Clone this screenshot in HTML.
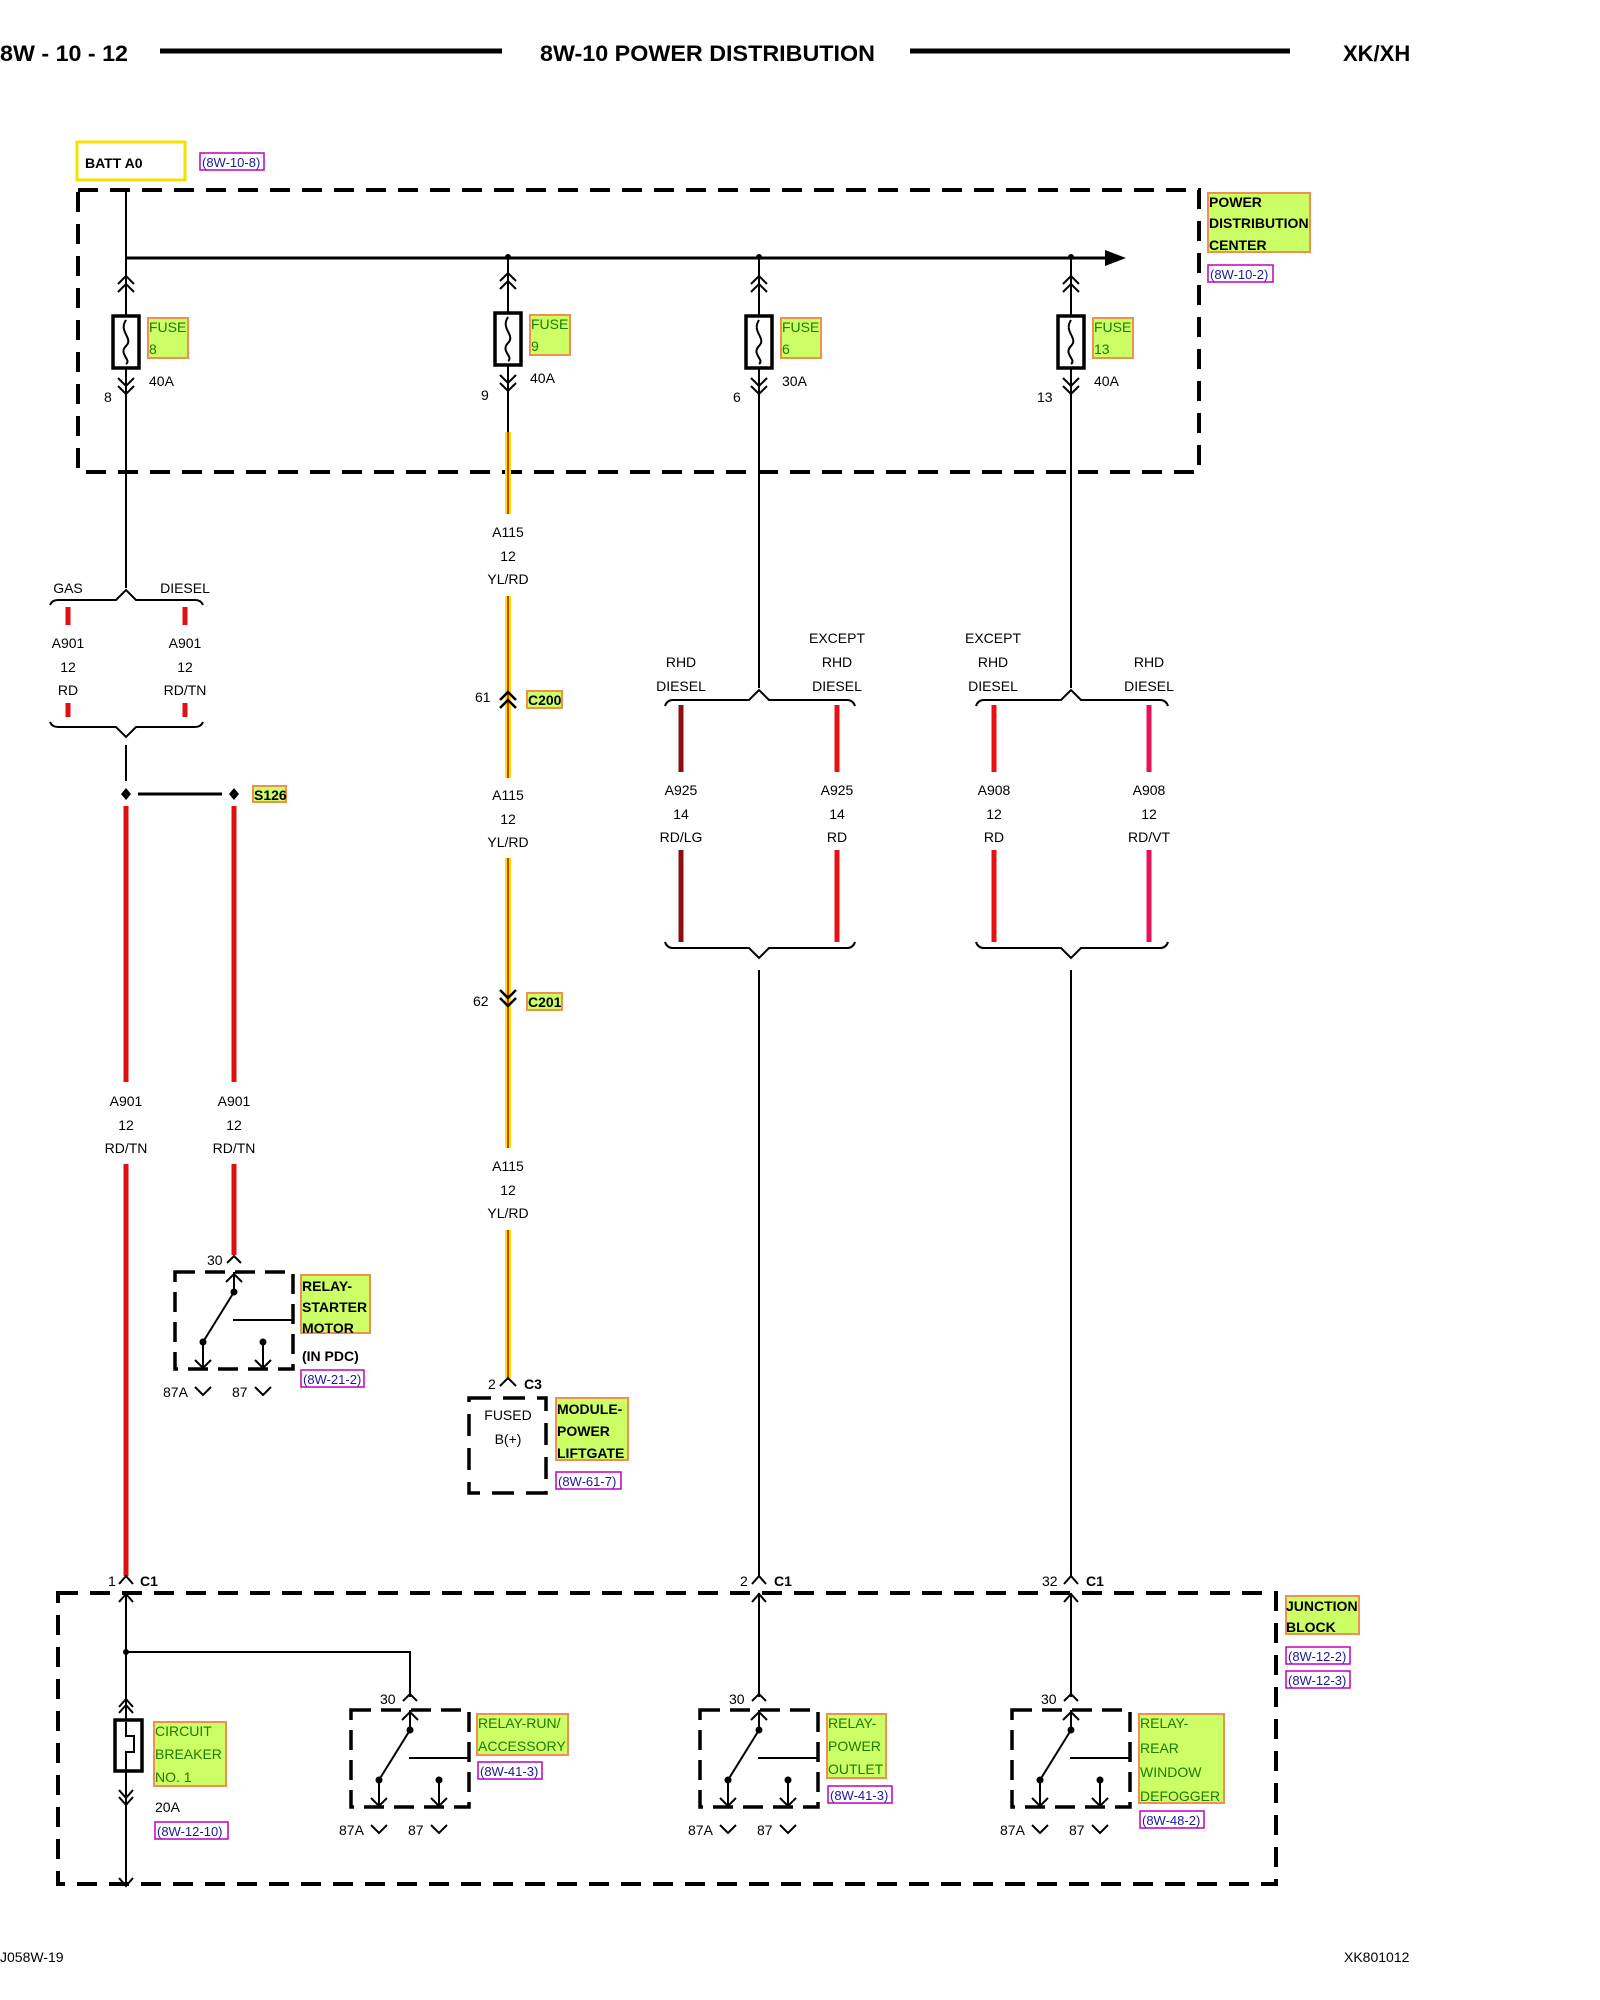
<!DOCTYPE html>
<html><head><meta charset="utf-8"><style>
html,body{margin:0;padding:0;background:#fff;}
svg{display:block;font-family:"Liberation Sans",sans-serif;}
.t{font-size:14px;text-anchor:middle;fill:#000;}
.tl{font-size:14px;fill:#000;}
.b{font-weight:bold;}
.g{fill:#1f7a00;font-size:14px;}
.r{fill:#1a1a99;font-size:13px;}
</style></head><body>
<svg width="1600" height="2000" viewBox="0 0 1600 2000" xmlns="http://www.w3.org/2000/svg">
<defs>
<g id="relay" fill="none" stroke="#000">
 <path d="M0,0 H118 V97 H0 Z" stroke-width="3.5" stroke-dasharray="20,10"/>
 <path d="M59,0 V20 M59,20 L28,70 V97 M88,70 V97 M58,48 H118" stroke-width="2"/>
 <path d="M51,10 L59,2 L67,10 M20,88 L28,96 L36,88 M80,88 L88,96 L96,88" stroke-width="2"/>
 <circle cx="59" cy="20" r="3" fill="#000"/><circle cx="28" cy="70" r="3" fill="#000"/><circle cx="88" cy="70" r="3" fill="#000"/>
 <path d="M52,-9 L59,-16 L66,-9 M20,115 L28,123 L36,115 M80,115 L88,123 L96,115" stroke-width="2"/>
</g>
<g id="fuse" fill="none" stroke="#000" stroke-width="2">
 <path d="M-8,-32 L0,-40 L8,-32 M-8,-24 L0,-32 L8,-24"/>
 <rect x="-13" y="0" width="26" height="52" stroke-width="3.5" fill="#fff"/>
 <path d="M0,4 C-8,16 8,22 0,30 C-8,38 6,44 0,48"/>
 <path d="M-8,70 L0,78 L8,70 M-8,62 L0,70 L8,62"/>
</g>
</defs>

<!-- header -->
<text x="0" y="61" font-size="22" font-weight="bold" textLength="128" lengthAdjust="spacingAndGlyphs">8W - 10 - 12</text>
<line x1="160" y1="51" x2="502" y2="51" stroke="#000" stroke-width="5"/>
<text x="540" y="61" font-size="22" font-weight="bold" textLength="335" lengthAdjust="spacingAndGlyphs">8W-10 POWER DISTRIBUTION</text>
<line x1="910" y1="51" x2="1290" y2="51" stroke="#000" stroke-width="5"/>
<text x="1343" y="61" font-size="22" font-weight="bold">XK/XH</text>

<!-- BATT -->
<rect x="77" y="142" width="108" height="38" fill="#fff" stroke="#f5e000" stroke-width="3"/>
<text x="85" y="168" class="tl b">BATT A0</text>
<rect x="200" y="153" width="64" height="17" fill="none" stroke="#c000c0" stroke-width="1.5"/>
<text x="202" y="167" class="r">(8W-10-8)</text>

<!-- PDC box -->
<rect x="78" y="190" width="1121" height="282" fill="none" stroke="#000" stroke-width="4" stroke-dasharray="20,12"/>
<rect x="1208" y="193" width="102" height="59" fill="#ccff66" stroke="#f09050" stroke-width="2"/>
<text x="1209" y="207" class="tl b">POWER</text>
<text x="1209" y="228" class="tl b">DISTRIBUTION</text>
<text x="1209" y="250" class="tl b">CENTER</text>
<rect x="1208" y="265" width="65" height="17" fill="none" stroke="#c000c0" stroke-width="1.5"/>
<text x="1210" y="279" class="r">(8W-10-2)</text>

<!-- bus -->
<line x1="126" y1="258" x2="1110" y2="258" stroke="#000" stroke-width="3"/>
<path d="M1105,250 L1126,258 L1105,266 Z" fill="#000"/>
<line x1="126" y1="190" x2="126" y2="258" stroke="#000" stroke-width="2"/>
<circle cx="508" cy="257" r="3"/><circle cx="759" cy="257" r="3"/><circle cx="1071" cy="257" r="3"/>

<!-- verticals -->
<g stroke="#000" stroke-width="2">
<line x1="126" y1="258" x2="126" y2="588"/>
<line x1="508" y1="258" x2="508" y2="432"/>
<line x1="759" y1="258" x2="759" y2="688"/>
<line x1="1071" y1="258" x2="1071" y2="688"/>
</g>
<use href="#fuse" x="126" y="316"/>
<use href="#fuse" x="508" y="313"/>
<use href="#fuse" x="759" y="316"/>
<use href="#fuse" x="1071" y="316"/>
<g>
<rect x="148" y="318" width="40" height="40" fill="#ccff66" stroke="#f09050" stroke-width="2"/>
<text x="149" y="332" class="g">FUSE</text><text x="149" y="354" class="g">8</text>
<rect x="530" y="315" width="40" height="40" fill="#ccff66" stroke="#f09050" stroke-width="2"/>
<text x="531" y="329" class="g">FUSE</text><text x="531" y="351" class="g">9</text>
<rect x="781" y="318" width="40" height="40" fill="#ccff66" stroke="#f09050" stroke-width="2"/>
<text x="782" y="332" class="g">FUSE</text><text x="782" y="354" class="g">6</text>
<rect x="1093" y="318" width="40" height="40" fill="#ccff66" stroke="#f09050" stroke-width="2"/>
<text x="1094" y="332" class="g">FUSE</text><text x="1094" y="354" class="g">13</text>
</g>
<text x="149" y="386" class="tl">40A</text><text x="530" y="383" class="tl">40A</text>
<text x="782" y="386" class="tl">30A</text><text x="1094" y="386" class="tl">40A</text>
<text x="104" y="402" class="tl">8</text><text x="481" y="400" class="tl">9</text>
<text x="733" y="402" class="tl">6</text><text x="1037" y="402" class="tl">13</text>

<!-- GAS/DIESEL -->
<text x="68" y="593" class="t">GAS</text><text x="185" y="593" class="t">DIESEL</text>
<path d="M50,605 Q52,600 58,600 H116 L126,590 L136,600 H195 Q201,600 203,605" fill="none" stroke="#000" stroke-width="2"/>
<g stroke="#e01010" stroke-width="5"><line x1="68" y1="607" x2="68" y2="625"/><line x1="185" y1="607" x2="185" y2="625"/>
<line x1="68" y1="703" x2="68" y2="717"/><line x1="185" y1="703" x2="185" y2="717"/></g>
<text x="68" y="648" class="t">A901</text><text x="68" y="672" class="t">12</text><text x="68" y="695" class="t">RD</text>
<text x="185" y="648" class="t">A901</text><text x="185" y="672" class="t">12</text><text x="185" y="695" class="t">RD/TN</text>
<path d="M50,722 Q52,727 58,727 H116 L126,737 L136,727 H195 Q201,727 203,722" fill="none" stroke="#000" stroke-width="2"/>
<line x1="126" y1="745" x2="126" y2="781" stroke="#000" stroke-width="2"/>
<line x1="138" y1="794" x2="222" y2="794" stroke="#000" stroke-width="3"/>
<path d="M126,788 L131,794 L126,800 L121,794 Z M234,788 L239,794 L234,800 L229,794 Z" fill="#000"/>
<rect x="253" y="786" width="33" height="16" fill="#ccff66" stroke="#f09050" stroke-width="2"/>
<text x="254" y="800" class="tl b" font-size="13">S126</text>

<!-- red wires -->
<g stroke="#dd1010" stroke-width="5">
<line x1="126" y1="806" x2="126" y2="1082"/><line x1="234" y1="806" x2="234" y2="1082"/>
<line x1="126" y1="1164" x2="126" y2="1576"/><line x1="234" y1="1164" x2="234" y2="1255"/>
</g>
<text x="126" y="1106" class="t">A901</text><text x="126" y="1130" class="t">12</text><text x="126" y="1153" class="t">RD/TN</text>
<text x="234" y="1106" class="t">A901</text><text x="234" y="1130" class="t">12</text><text x="234" y="1153" class="t">RD/TN</text>

<!-- starter relay -->
<use href="#relay" x="175" y="1272"/>
<text x="207" y="1265" class="tl">30</text>
<text x="163" y="1397" class="tl">87A</text><text x="232" y="1397" class="tl">87</text>
<rect x="301" y="1275" width="69" height="58" fill="#ccff66" stroke="#f09050" stroke-width="2"/>
<text x="302" y="1291" class="tl b">RELAY-</text><text x="302" y="1312" class="tl b">STARTER</text><text x="302" y="1333" class="tl b">MOTOR</text>
<text x="302" y="1361" class="tl b">(IN PDC)</text>
<rect x="301" y="1370" width="63" height="17" fill="none" stroke="#c000c0" stroke-width="1.5"/>
<text x="303" y="1384" class="r">(8W-21-2)</text>

<!-- A115 yellow -->
<g stroke="#ffe000" stroke-width="6">
<line x1="508" y1="432" x2="508" y2="514"/><line x1="508" y1="596" x2="508" y2="778"/>
<line x1="508" y1="858" x2="508" y2="1148"/><line x1="508" y1="1230" x2="508" y2="1378"/></g>
<g stroke="#b01010" stroke-width="1.5">
<line x1="508" y1="432" x2="508" y2="514"/><line x1="508" y1="596" x2="508" y2="778"/>
<line x1="508" y1="858" x2="508" y2="1148"/><line x1="508" y1="1230" x2="508" y2="1378"/></g>
<text x="508" y="537" class="t">A115</text><text x="508" y="561" class="t">12</text><text x="508" y="584" class="t">YL/RD</text>
<text x="508" y="800" class="t">A115</text><text x="508" y="824" class="t">12</text><text x="508" y="847" class="t">YL/RD</text>
<text x="508" y="1171" class="t">A115</text><text x="508" y="1195" class="t">12</text><text x="508" y="1218" class="t">YL/RD</text>
<path d="M500,700 L508,692 L516,700 M500,708 L508,700 L516,708" fill="none" stroke="#000" stroke-width="2.5"/>
<text x="475" y="702" class="tl">61</text>
<rect x="527" y="691" width="35" height="17" fill="#ccff66" stroke="#f09050" stroke-width="2"/>
<text x="528" y="705" class="tl b" font-size="13">C200</text>
<path d="M500,990 L508,998 L516,990 M500,998 L508,1006 L516,998" fill="none" stroke="#000" stroke-width="2.5"/>
<text x="473" y="1006" class="tl">62</text>
<rect x="527" y="993" width="35" height="17" fill="#ccff66" stroke="#f09050" stroke-width="2"/>
<text x="528" y="1007" class="tl b" font-size="13">C201</text>
<path d="M500,1386 L508,1378 L516,1386" fill="none" stroke="#000" stroke-width="2"/>
<text x="488" y="1389" class="tl">2</text><text x="524" y="1389" class="tl b">C3</text>
<rect x="469" y="1398" width="77" height="95" fill="none" stroke="#000" stroke-width="3.5" stroke-dasharray="22,12"/>
<text x="508" y="1420" class="t">FUSED</text><text x="508" y="1444" class="t">B(+)</text>
<rect x="556" y="1398" width="72" height="62" fill="#ccff66" stroke="#f09050" stroke-width="2"/>
<text x="557" y="1414" class="tl b">MODULE-</text><text x="557" y="1436" class="tl b">POWER</text><text x="557" y="1458" class="tl b">LIFTGATE</text>
<rect x="556" y="1472" width="65" height="17" fill="none" stroke="#c000c0" stroke-width="1.5"/>
<text x="558" y="1486" class="r">(8W-61-7)</text>

<!-- right groups -->
<g fill="none" stroke="#000" stroke-width="2">
<path d="M665,706 Q667,700 673,700 H749 L759,690 L769,700 H847 Q853,700 855,706"/>
<path d="M665,942 Q667,948 673,948 H749 L759,958 L769,948 H847 Q853,948 855,942"/>
<path d="M976,706 Q978,700 984,700 H1061 L1071,690 L1081,700 H1160 Q1166,700 1168,706"/>
<path d="M976,942 Q978,948 984,948 H1061 L1071,958 L1081,948 H1160 Q1166,948 1168,942"/>
<line x1="759" y1="970" x2="759" y2="1576"/><line x1="1071" y1="970" x2="1071" y2="1576"/>
</g>
<text x="681" y="667" class="t">RHD</text><text x="681" y="691" class="t">DIESEL</text>
<text x="837" y="643" class="t">EXCEPT</text><text x="837" y="667" class="t">RHD</text><text x="837" y="691" class="t">DIESEL</text>
<text x="993" y="643" class="t">EXCEPT</text><text x="993" y="667" class="t">RHD</text><text x="993" y="691" class="t">DIESEL</text>
<text x="1149" y="667" class="t">RHD</text><text x="1149" y="691" class="t">DIESEL</text>
<g stroke-width="5">
<line x1="681" y1="705" x2="681" y2="772" stroke="#8a1010"/><line x1="681" y1="850" x2="681" y2="942" stroke="#8a1010"/>
<line x1="837" y1="705" x2="837" y2="772" stroke="#e81010"/><line x1="837" y1="850" x2="837" y2="942" stroke="#e81010"/>
<line x1="994" y1="705" x2="994" y2="772" stroke="#e81010"/><line x1="994" y1="850" x2="994" y2="942" stroke="#e81010"/>
<line x1="1149" y1="705" x2="1149" y2="772" stroke="#e8105a"/><line x1="1149" y1="850" x2="1149" y2="942" stroke="#e8105a"/>
</g>
<text x="681" y="795" class="t">A925</text><text x="681" y="819" class="t">14</text><text x="681" y="842" class="t">RD/LG</text>
<text x="837" y="795" class="t">A925</text><text x="837" y="819" class="t">14</text><text x="837" y="842" class="t">RD</text>
<text x="994" y="795" class="t">A908</text><text x="994" y="819" class="t">12</text><text x="994" y="842" class="t">RD</text>
<text x="1149" y="795" class="t">A908</text><text x="1149" y="819" class="t">12</text><text x="1149" y="842" class="t">RD/VT</text>

<!-- C1 connectors -->
<g fill="none" stroke="#000" stroke-width="2">
<path d="M119,1584 L126,1576 L133,1584 M752,1584 L759,1576 L766,1584 M1064,1584 L1071,1576 L1078,1584"/>
</g>
<text x="108" y="1586" class="tl">1</text><text x="140" y="1586" class="tl b">C1</text>
<text x="740" y="1586" class="tl">2</text><text x="774" y="1586" class="tl b">C1</text>
<text x="1042" y="1586" class="tl">32</text><text x="1086" y="1586" class="tl b">C1</text>

<!-- JB -->
<rect x="58" y="1593" width="1218" height="291" fill="none" stroke="#000" stroke-width="4" stroke-dasharray="20,12"/>
<rect x="1286" y="1596" width="73" height="38" fill="#ccff66" stroke="#f09050" stroke-width="2"/>
<text x="1286" y="1611" class="tl b">JUNCTION</text><text x="1286" y="1632" class="tl b">BLOCK</text>
<rect x="1286" y="1647" width="64" height="17" fill="none" stroke="#c000c0" stroke-width="1.5"/>
<text x="1288" y="1661" class="r">(8W-12-2)</text>
<rect x="1286" y="1671" width="64" height="17" fill="none" stroke="#c000c0" stroke-width="1.5"/>
<text x="1288" y="1685" class="r">(8W-12-3)</text>

<g fill="none" stroke="#000" stroke-width="2">
<line x1="126" y1="1593" x2="126" y2="1886"/>
<path d="M119,1602 L126,1594 L133,1602 M119,1878 L126,1886 L133,1878"/>
<path d="M126,1652 H410 V1697"/>
<path d="M119,1707 L126,1699 L133,1707 M119,1713 L126,1705 L133,1713"/>
<rect x="115" y="1720" width="27" height="51" stroke-width="3.5" fill="#fff"/>
<path d="M126,1722 V1736 H134 V1752 H126 V1770"/>
<path d="M119,1790 L126,1798 L133,1790 M119,1797 L126,1805 L133,1797"/>
<line x1="759" y1="1593" x2="759" y2="1697"/><line x1="1071" y1="1593" x2="1071" y2="1697"/>
<path d="M752,1602 L759,1594 L766,1602 M1064,1602 L1071,1594 L1078,1602"/>
</g>
<circle cx="126" cy="1652" r="3"/>
<rect x="154" y="1722" width="72" height="64" fill="#ccff66" stroke="#f09050" stroke-width="2"/>
<text x="155" y="1736" class="g">CIRCUIT</text><text x="155" y="1759" class="g">BREAKER</text><text x="155" y="1782" class="g">NO. 1</text>
<text x="155" y="1812" class="tl">20A</text>
<rect x="155" y="1822" width="73" height="17" fill="none" stroke="#c000c0" stroke-width="1.5"/>
<text x="157" y="1836" class="r">(8W-12-10)</text>

<use href="#relay" x="351" y="1710"/>
<text x="380" y="1704" class="tl">30</text>
<text x="339" y="1835" class="tl">87A</text><text x="408" y="1835" class="tl">87</text>
<rect x="477" y="1714" width="91" height="41" fill="#ccff66" stroke="#f09050" stroke-width="2"/>
<text x="478" y="1728" class="g">RELAY-RUN/</text><text x="478" y="1751" class="g">ACCESSORY</text>
<rect x="478" y="1762" width="64" height="17" fill="none" stroke="#c000c0" stroke-width="1.5"/>
<text x="480" y="1776" class="r">(8W-41-3)</text>

<use href="#relay" x="700" y="1710"/>
<text x="729" y="1704" class="tl">30</text>
<text x="688" y="1835" class="tl">87A</text><text x="757" y="1835" class="tl">87</text>
<rect x="827" y="1714" width="59" height="64" fill="#ccff66" stroke="#f09050" stroke-width="2"/>
<text x="828" y="1728" class="g">RELAY-</text><text x="828" y="1751" class="g">POWER</text><text x="828" y="1774" class="g">OUTLET</text>
<rect x="828" y="1786" width="64" height="17" fill="none" stroke="#c000c0" stroke-width="1.5"/>
<text x="830" y="1800" class="r">(8W-41-3)</text>

<use href="#relay" x="1012" y="1710"/>
<text x="1041" y="1704" class="tl">30</text>
<text x="1000" y="1835" class="tl">87A</text><text x="1069" y="1835" class="tl">87</text>
<rect x="1139" y="1714" width="85" height="89" fill="#ccff66" stroke="#f09050" stroke-width="2"/>
<text x="1140" y="1728" class="g">RELAY-</text><text x="1140" y="1753" class="g">REAR</text><text x="1140" y="1777" class="g">WINDOW</text><text x="1140" y="1801" class="g">DEFOGGER</text>
<rect x="1140" y="1811" width="64" height="17" fill="none" stroke="#c000c0" stroke-width="1.5"/>
<text x="1142" y="1825" class="r">(8W-48-2)</text>

<text x="0" y="1962" class="tl" font-size="13">J058W-19</text>
<text x="1344" y="1962" class="tl" font-size="13">XK801012</text>
</svg>
</body></html>
